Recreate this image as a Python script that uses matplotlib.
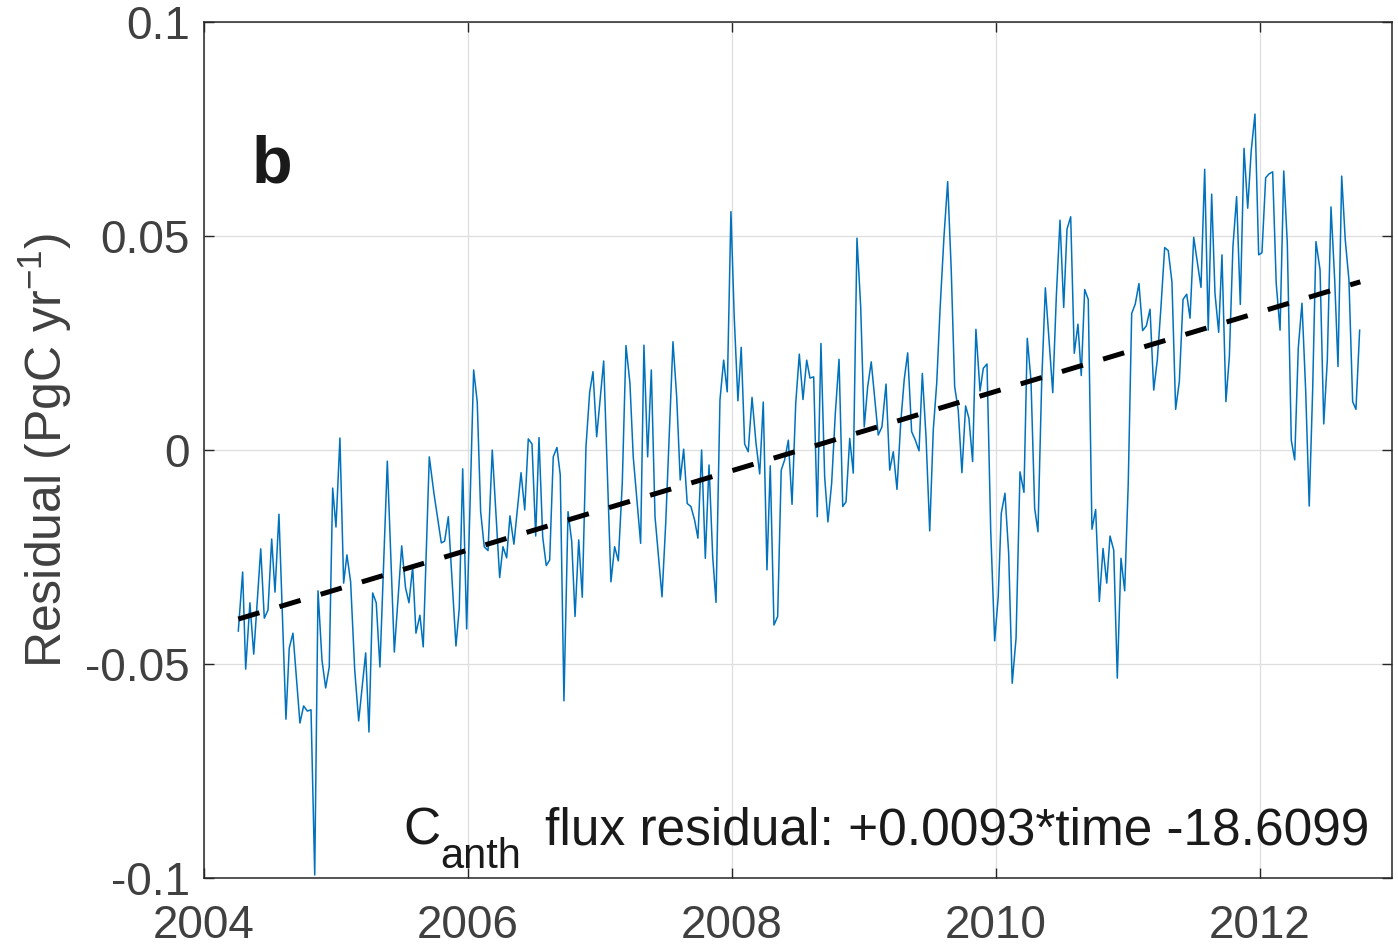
"""Residual time series with linear trend (panel b)."""
import matplotlib
matplotlib.use("Agg")
import matplotlib.pyplot as plt

plt.rcParams["font.family"] = ["Liberation Sans", "DejaVu Sans"]
plt.rcParams["mathtext.default"] = "regular"
plt.rcParams["axes.unicode_minus"] = False

# residual series (decimal year, PgC/yr)
years = [
    2004.260, 2004.293, 2004.316, 2004.348, 2004.377, 2004.430, 2004.457, 2004.485,
    2004.513, 2004.538, 2004.568, 2004.621, 2004.646, 2004.674, 2004.727, 2004.755,
    2004.783, 2004.811, 2004.839, 2004.864, 2004.894, 2004.922, 2004.949, 2004.975,
    2005.000, 2005.030, 2005.058, 2005.083, 2005.111, 2005.142, 2005.172, 2005.225,
    2005.250, 2005.278, 2005.305, 2005.333, 2005.389, 2005.442, 2005.498, 2005.527,
    2005.553, 2005.581, 2005.606, 2005.636, 2005.661, 2005.707, 2005.742, 2005.798,
    2005.823, 2005.851, 2005.909, 2005.934, 2005.960, 2005.990, 2006.043, 2006.070,
    2006.096, 2006.123, 2006.152, 2006.184, 2006.240, 2006.265, 2006.293, 2006.318,
    2006.348, 2006.402, 2006.430, 2006.457, 2006.485, 2006.513, 2006.538, 2006.566,
    2006.593, 2006.619, 2006.646, 2006.674, 2006.699, 2006.727, 2006.758, 2006.786,
    2006.811, 2006.839, 2006.866, 2006.894, 2006.922, 2006.947, 2006.975, 2007.028,
    2007.083, 2007.111, 2007.139, 2007.169, 2007.197, 2007.227, 2007.252, 2007.308,
    2007.333, 2007.361, 2007.389, 2007.417, 2007.470, 2007.498, 2007.553, 2007.581,
    2007.608, 2007.634, 2007.661, 2007.689, 2007.717, 2007.742, 2007.770, 2007.798,
    2007.826, 2007.854, 2007.879, 2007.909, 2007.937, 2007.964, 2007.992, 2008.017,
    2008.045, 2008.070, 2008.096, 2008.123, 2008.152, 2008.182, 2008.210, 2008.237,
    2008.265, 2008.290, 2008.318, 2008.346, 2008.373, 2008.399, 2008.427, 2008.455,
    2008.483, 2008.510, 2008.538, 2008.566, 2008.591, 2008.619, 2008.646, 2008.674,
    2008.702, 2008.727, 2008.755, 2008.783, 2008.811, 2008.839, 2008.864, 2008.892,
    2008.919, 2008.947, 2008.975, 2009.002, 2009.028, 2009.055, 2009.083, 2009.108,
    2009.136, 2009.167, 2009.195, 2009.222, 2009.250, 2009.278, 2009.305, 2009.331,
    2009.361, 2009.389, 2009.417, 2009.442, 2009.470, 2009.498, 2009.525, 2009.551,
    2009.576, 2009.606, 2009.634, 2009.661, 2009.687, 2009.714, 2009.742, 2009.770,
    2009.795, 2009.823, 2009.848, 2009.879, 2009.904, 2009.932, 2009.960, 2009.990,
    2010.017, 2010.040, 2010.068, 2010.096, 2010.123, 2010.152, 2010.182, 2010.212,
    2010.237, 2010.265, 2010.293, 2010.318, 2010.346, 2010.374, 2010.402, 2010.430,
    2010.457, 2010.485, 2010.513, 2010.538, 2010.566, 2010.593, 2010.621, 2010.646,
    2010.672, 2010.699, 2010.727, 2010.755, 2010.783, 2010.811, 2010.839, 2010.864,
    2010.892, 2010.919, 2010.947, 2010.975, 2011.002, 2011.028, 2011.055, 2011.083,
    2011.111, 2011.139, 2011.167, 2011.195, 2011.222, 2011.250, 2011.278, 2011.305,
    2011.333, 2011.361, 2011.389, 2011.417, 2011.445, 2011.470, 2011.498, 2011.525,
    2011.553, 2011.581, 2011.608, 2011.634, 2011.659, 2011.687, 2011.712, 2011.742,
    2011.768, 2011.795, 2011.823, 2011.851, 2011.879, 2011.907, 2011.934, 2011.962,
    2011.990, 2012.015, 2012.043, 2012.068, 2012.096, 2012.123, 2012.152, 2012.180,
    2012.207, 2012.237, 2012.263, 2012.290, 2012.318, 2012.346, 2012.373, 2012.399,
    2012.424, 2012.455, 2012.483, 2012.510, 2012.538, 2012.566, 2012.591, 2012.619,
    2012.646, 2012.674, 2012.702, 2012.727, 2012.755,
]
residual = [
    -0.0423, -0.0285, -0.0512, -0.0357, -0.0477, -0.0231, -0.0393, -0.0374,
    -0.0208, -0.0332, -0.0150, -0.0629, -0.0463, -0.0428, -0.0638, -0.0598,
    -0.0610, -0.0607, -0.0993, -0.0329, -0.0491, -0.0556, -0.0507, -0.0089,
    -0.0180, 0.0028, -0.0311, -0.0245, -0.0308, -0.0514, -0.0633, -0.0474,
    -0.0659, -0.0334, -0.0357, -0.0507, -0.0026, -0.0472, -0.0224, -0.0322,
    -0.0357, -0.0273, -0.0428, -0.0386, -0.0460, -0.0016, -0.0101, -0.0217,
    -0.0213, -0.0156, -0.0458, -0.0370, -0.0044, -0.0418, 0.0187, 0.0113,
    -0.0144, -0.0226, -0.0235, 0.0000, -0.0298, -0.0226, -0.0252, -0.0154,
    -0.0220, -0.0053, -0.0140, 0.0026, 0.0014, -0.0201, 0.0029, -0.0203,
    -0.0270, -0.0257, -0.0016, 0.0006, -0.0058, -0.0586, -0.0144, -0.0214,
    -0.0389, -0.0210, -0.0344, 0.0008, 0.0135, 0.0183, 0.0031, 0.0208,
    -0.0308, -0.0226, -0.0259, -0.0077, 0.0244, 0.0156, -0.0016, -0.0218,
    0.0245, -0.0016, 0.0187, -0.0156, -0.0343, -0.0171, 0.0253, 0.0125,
    -0.0070, 0.0002, -0.0125, -0.0132, -0.0164, -0.0206, 0.0000, -0.0253,
    -0.0035, -0.0249, -0.0356, 0.0117, 0.0210, 0.0136, 0.0557, 0.0311,
    0.0115, 0.0240, 0.0014, -0.0004, 0.0123, 0.0016, -0.0056, 0.0112,
    -0.0280, -0.0037, -0.0409, -0.0389, -0.0047, -0.0023, 0.0023, -0.0127,
    0.0109, 0.0224, 0.0118, 0.0210, 0.0168, 0.0171, -0.0156, 0.0249,
    -0.0062, -0.0168, -0.0078, 0.0086, 0.0212, -0.0132, -0.0121, 0.0027,
    -0.0054, 0.0495, 0.0335, 0.0054, 0.0148, 0.0206, 0.0117, 0.0035,
    0.0054, 0.0154, -0.0047, -0.0004, -0.0092, 0.0062, 0.0165, 0.0227,
    0.0043, 0.0023, -0.0002, 0.0179, 0.0031, -0.0189, 0.0047, 0.0156,
    0.0327, 0.0498, 0.0627, 0.0421, 0.0148, 0.0093, -0.0053, 0.0103,
    0.0074, -0.0027, 0.0282, 0.0138, 0.0191, 0.0201, -0.0187, -0.0446,
    -0.0343, -0.0148, -0.0101, -0.0241, -0.0545, -0.0440, -0.0051, -0.0099,
    0.0261, 0.0164, -0.0136, -0.0191, 0.0156, 0.0379, 0.0257, 0.0134,
    0.0358, 0.0537, 0.0333, 0.0516, 0.0545, 0.0226, 0.0294, 0.0174,
    0.0375, 0.0352, -0.0185, -0.0139, -0.0354, -0.0230, -0.0311, -0.0201,
    -0.0234, -0.0533, -0.0253, -0.0329, -0.0078, 0.0319, 0.0341, 0.0389,
    0.0279, 0.0290, 0.0329, 0.0140, 0.0210, 0.0335, 0.0473, 0.0466,
    0.0393, 0.0095, 0.0160, 0.0352, 0.0364, 0.0308, 0.0497, 0.0440,
    0.0380, 0.0656, 0.0280, 0.0598, 0.0366, 0.0275, 0.0456, 0.0113,
    0.0218, 0.0475, 0.0592, 0.0340, 0.0705, 0.0565, 0.0701, 0.0785,
    0.0456, 0.0461, 0.0636, 0.0645, 0.0650, 0.0389, 0.0280, 0.0652,
    0.0483, 0.0023, -0.0023, 0.0238, 0.0343, 0.0140, -0.0131, 0.0140,
    0.0487, 0.0421, 0.0061, 0.0210, 0.0568, 0.0397, 0.0195, 0.0640,
    0.0491, 0.0397, 0.0113, 0.0095, 0.0280,
]

# linear trend end points
trend_years = [2004.26, 2012.76]
trend_values = [-0.0395, 0.0393]

xticks = [2004, 2006, 2008, 2010, 2012]
yticks = [-0.1, -0.05, 0, 0.05, 0.1]
yticklabels = ["-0.1", "-0.05", "0", "0.05", "0.1"]

fig = plt.figure(figsize=(13.98, 9.46), dpi=100)
ax = fig.add_axes([0.1459, 0.0719, 0.8498, 0.9048])

ax.plot(years, residual, color="#0072BD", linewidth=1.1, zorder=3)
ax.plot(trend_years, trend_values, color="black", linewidth=3.6,
        linestyle=(0, (4.4, 4.2)), zorder=4)

ax.set_xlim(2004, 2013)
ax.set_ylim(-0.1, 0.1)
ax.set_xticks(xticks)
ax.set_yticks(yticks)
ax.set_yticklabels(yticklabels)
ax.grid(True, color="#dedede", linewidth=0.9)
ax.set_axisbelow(True)

for sp in ax.spines.values():
    sp.set_color("#262626")
    sp.set_linewidth(1.1)
ax.tick_params(axis="both", direction="in", length=7, width=1.0, color="#262626",
               top=True, right=True, labelcolor="#404040", labelsize=33)
ax.tick_params(axis="x", pad=19)
ax.tick_params(axis="y", pad=10)

ax.set_ylabel("Residual (PgC yr$^{-1}$)", fontsize=36, color="#404040", labelpad=8)

ax.text(0.040, 0.813, "b", transform=ax.transAxes, fontsize=48,
        fontweight="bold", color="#1a1a1a", va="baseline")

# annotation: C with a large subscript, then the fit equation
ink = "#1a1a1a"
ax.text(0.1675, 0.0386, "C", transform=ax.transAxes, fontsize=37, color=ink,
        ha="left", va="baseline")
ax.text(0.199, 0.0117, "anth", transform=ax.transAxes, fontsize=30, color=ink,
        ha="left", va="baseline")
ax.text(0.981, 0.0386, "flux residual: +0.0093*time -18.6099",
        transform=ax.transAxes, fontsize=37, color=ink,
        ha="right", va="baseline")

fig.savefig("out.png", dpi=100)
